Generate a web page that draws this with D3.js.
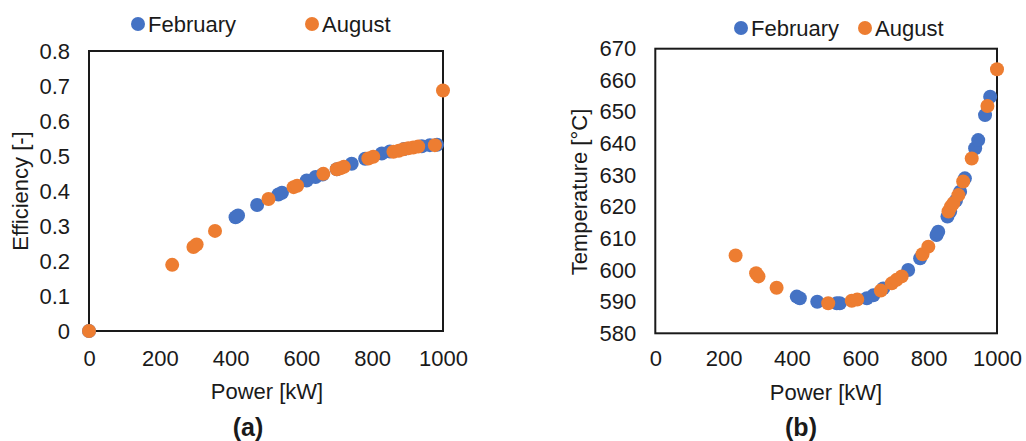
<!DOCTYPE html>
<html>
<head>
<meta charset="utf-8">
<script src="https://cdn.jsdelivr.net/npm/d3@7"></script>
<style>
  html, body { margin: 0; padding: 0; background: #fff; }
  text { font-family: "Liberation Sans", Arial, sans-serif; fill: #1a1a1a; }
</style>
</head>
<body>
<svg id="chart" width="1026" height="441"></svg>
<script>
// ---------- data ----------
const seriesNames = ["February", "August"];
const seriesColors = ["#4472C4", "#ED7D31"];

// Panel (a): Efficiency vs Power
const febPowerA = [0, 414, 421, 475, 535, 545, 615, 640, 660, 700, 742, 780, 827, 850, 890, 940, 963, 983];
const febEffA   = [0, 0.325, 0.330, 0.360, 0.390, 0.395, 0.430, 0.440, 0.447, 0.462, 0.478, 0.492, 0.507, 0.513, 0.520, 0.528, 0.531, 0.532];
const augPowerA = [0, 235, 295, 304, 356, 507, 578, 588, 662, 700, 710, 720, 789, 803, 860, 875, 888, 902, 916, 930, 977, 1000];
const augEffA   = [0, 0.189, 0.240, 0.247, 0.286, 0.377, 0.411, 0.415, 0.449, 0.462, 0.465, 0.469, 0.493, 0.498, 0.512, 0.515, 0.519, 0.522, 0.524, 0.527, 0.531, 0.687];

// Panel (b): Temperature vs Power
const febPowerB = [414, 423, 474, 531, 540, 619, 638, 667, 740, 775, 823, 828, 855, 863, 880, 892, 906, 936, 945, 965, 980];
const febTempB  = [591.6, 591.1, 590.0, 589.5, 589.5, 591.1, 592.0, 594.2, 600.0, 603.7, 611.1, 612.1, 616.9, 618.5, 622.0, 624.8, 629.0, 638.5, 641.1, 649.0, 654.8];
const augPowerB = [235, 295, 302, 355, 506, 575, 591, 660, 692, 706, 721, 782, 799, 858, 865, 872, 887, 901, 926, 972, 1000];
const augTempB  = [604.6, 599.0, 598.0, 594.4, 589.5, 590.3, 590.7, 593.5, 595.8, 596.9, 598.0, 605.0, 607.4, 618.5, 620.0, 621.1, 623.7, 628.0, 635.3, 651.9, 663.5];

const xTicks  = [0, 200, 400, 600, 800, 1000];
const yTicksA = [0, 0.1, 0.2, 0.3, 0.4, 0.5, 0.6, 0.7, 0.8];
const yTicksB = [580, 590, 600, 610, 620, 630, 640, 650, 660, 670];

// ---------- drawing ----------
const svg = d3.select("#chart");
const FS = 22;

function panel(cfg) {
  const x = d3.scaleLinear().domain([0, 1000]).range([cfg.left, cfg.right]);
  const y = d3.scaleLinear().domain(cfg.yDomain).range([cfg.bottom, cfg.top]);
  const g = svg.append("g");

  // frame
  g.append("rect")
    .attr("x", cfg.left).attr("y", cfg.top)
    .attr("width", cfg.right - cfg.left).attr("height", cfg.bottom - cfg.top)
    .attr("fill", "none").attr("stroke", "#1a1a1a").attr("stroke-width", 2);

  // axes (labels only)
  const xAxis = g.append("g").attr("transform", `translate(0,${cfg.bottom})`)
    .call(d3.axisBottom(x).tickValues(xTicks).tickSize(0).tickPadding(cfg.xPad).tickFormat(d3.format("d")));
  const yAxis = g.append("g").attr("transform", `translate(${cfg.left},0)`)
    .call(d3.axisLeft(y).tickValues(cfg.yTicks).tickSize(0).tickPadding(cfg.yPad).tickFormat(cfg.yFmt));
  [xAxis, yAxis].forEach(a => {
    a.select(".domain").remove();
    a.selectAll("text").attr("font-size", FS).attr("fill", "#1a1a1a")
      .style("font-family", '"Liberation Sans", Arial, sans-serif');
  });

  // points
  cfg.series.forEach((s, i) => {
    g.append("g").selectAll("circle")
      .data(s.px.map((p, k) => [p, s.py[k]]))
      .join("circle")
      .attr("cx", d => x(d[0])).attr("cy", d => y(d[1]))
      .attr("r", 7).attr("fill", seriesColors[i]);
  });

  // axis titles
  g.append("text").attr("x", cfg.xTitleX).attr("y", cfg.xTitleY)
    .attr("text-anchor", "middle").attr("dominant-baseline", "central")
    .attr("font-size", FS).text("Power [kW]");
  g.append("text")
    .attr("transform", `translate(${cfg.yTitleX},${cfg.yTitleY}) rotate(-90)`)
    .attr("text-anchor", "middle").attr("dominant-baseline", "central")
    .attr("font-size", FS).text(cfg.yTitle);

  // panel label
  g.append("text").attr("x", cfg.labelX).attr("y", 427)
    .attr("text-anchor", "middle").attr("dominant-baseline", "central")
    .attr("font-size", 25).attr("font-weight", "bold").text(cfg.label);

  // legend
  cfg.legend.forEach((L, i) => {
    g.append("circle").attr("cx", L.cx).attr("cy", cfg.legY).attr("r", 7).attr("fill", seriesColors[i]);
    g.append("text").attr("x", L.cx + 10).attr("y", cfg.legY)
      .attr("dominant-baseline", "central").attr("font-size", FS).text(seriesNames[i]);
  });
}

panel({
  left: 89, right: 443, top: 51, bottom: 331,
  yDomain: [0, 0.8], yTicks: yTicksA,
  yFmt: d => d === 0 ? "0" : d3.format(".1f")(d),
  xPad: 19, yPad: 19,
  series: [{ px: febPowerA, py: febEffA }, { px: augPowerA, py: augEffA }],
  xTitleX: 267, xTitleY: 391, yTitleX: 20, yTitleY: 191, yTitle: "Efficiency [-]",
  labelX: 248, label: "(a)",
  legY: 24, legend: [{ cx: 138 }, { cx: 312 }]
});

panel({
  left: 655.3, right: 997, top: 48.7, bottom: 333.3,
  yDomain: [580, 670], yTicks: yTicksB,
  yFmt: d3.format("d"),
  xPad: 17, yPad: 19,
  series: [{ px: febPowerB, py: febTempB }, { px: augPowerB, py: augTempB }],
  xTitleX: 826, xTitleY: 392, yTitleX: 579, yTitleY: 192, yTitle: "Temperature [°C]",
  labelX: 801, label: "(b)",
  legY: 28, legend: [{ cx: 741 }, { cx: 865 }]
});
</script>
</body>
</html>
